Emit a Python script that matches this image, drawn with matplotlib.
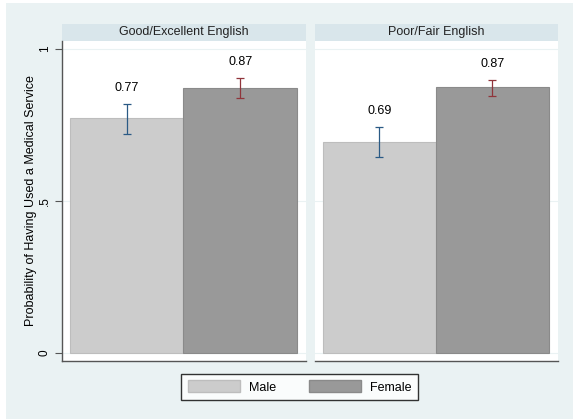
import matplotlib.pyplot as plt
from matplotlib.patches import Rectangle, Patch

plt.rcParams['font.family'] = ['Liberation Sans', 'DejaVu Sans']

panels = ['Good/Excellent English', 'Poor/Fair English']
groups = ['Male', 'Female']
means = [[0.773, 0.872], [0.694, 0.875]]
ci_low = [[0.720, 0.839], [0.645, 0.845]]
ci_high = [[0.819, 0.905], [0.743, 0.898]]
labels = [['0.77', '0.87'], ['0.69', '0.87']]

bar_colors = ['#cccccc', '#999999']
edge_colors = ['#bdbdbd', '#8a8a8a']
err_colors = ['#2a5a85', '#90353b']
bg = '#eaf2f3'

W, H = 573, 419
fig = plt.figure(figsize=(W / 100, H / 100), dpi=100)
fig.patch.set_facecolor('white')
fig.patches.append(Rectangle((6 / W, 0), 1 - 6 / W, 1 - 3 / H, transform=fig.transFigure,
                             facecolor=bg, edgecolor='none', zorder=-10))

lefts = [62, 315]
widths = [244, 243]
top, bottom = 41, 361
for p in range(2):
    ax = fig.add_axes([lefts[p] / W, 1 - bottom / H, widths[p] / W, (bottom - top) / H])
    ax.set_facecolor('white')
    x = [0, 1]
    for i in range(2):
        ax.bar(x[i], means[p][i], width=1, color=bar_colors[i], edgecolor=edge_colors[i],
               linewidth=0.8, zorder=2)
        m = means[p][i]
        ax.errorbar(x[i], m, yerr=[[m - ci_low[p][i]], [ci_high[p][i] - m]], fmt='none',
                    ecolor=err_colors[i], elinewidth=0.9, capsize=3, capthick=0.9, zorder=3)
        ax.text(x[i], ci_high[p][i] + 0.052, labels[p][i], ha='center', va='center',
                fontsize=9, color='black', zorder=4)
    ax.set_xlim(-0.57, 1.58)
    ax.set_ylim(-0.0263, 1.0263)
    for yy in [0, 0.5, 1]:
        ax.axhline(yy, color=bg, linewidth=0.8, zorder=1)
    ax.set_xticks([])
    for s in ['top', 'right']:
        ax.spines[s].set_visible(False)
    ax.spines['bottom'].set_color('#555555')
    ax.spines['bottom'].set_linewidth(1)
    if p == 0:
        ax.spines['left'].set_color('#555555')
        ax.spines['left'].set_linewidth(1)
        ax.set_yticks([0, 0.5, 1])
        ax.set_yticklabels(['0', '.5', '1'], rotation=90, va='center', fontsize=8.5)
        ax.tick_params(axis='y', length=5, color='#555555', pad=3)
        ax.set_ylabel('Probability of Having Used a Medical Service', fontsize=9, labelpad=1)
    else:
        ax.spines['left'].set_visible(False)
        ax.set_yticks([])
    # strip title
    fig.patches.append(Rectangle((lefts[p] / W, 1 - top / H), widths[p] / W, 17 / H,
                                 transform=fig.transFigure, facecolor='#d9e6eb',
                                 edgecolor='none', zorder=-5))
    fig.text((lefts[p] + widths[p] / 2) / W, 1 - 32.5 / H, panels[p], ha='center',
             va='center', fontsize=9, color='#222222')

handles = [Patch(facecolor=bar_colors[i], edgecolor=edge_colors[i], label=groups[i])
           for i in range(2)]
leg = fig.legend(handles=handles, loc='center', bbox_to_anchor=(299.5 / W, 1 - 387 / H),
                 ncol=2, frameon=True, fancybox=False, edgecolor='black', fontsize=9,
                 handlelength=4.2, handleheight=1.1, handletextpad=0.7, columnspacing=2.6,
                 borderpad=0.5, borderaxespad=0)
leg.get_frame().set_linewidth(1)

fig.savefig('out.png', dpi=100)
